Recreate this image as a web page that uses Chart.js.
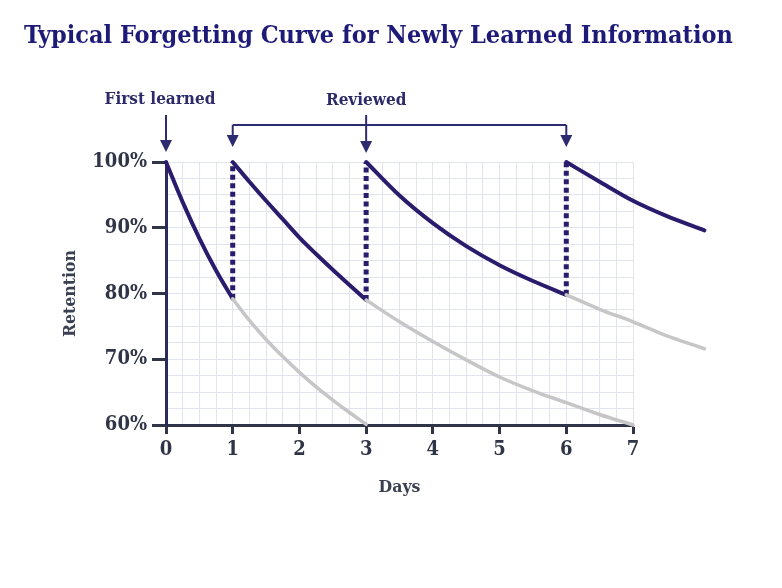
<!DOCTYPE html>
<html><head><meta charset="utf-8">
<script src="https://cdn.jsdelivr.net/npm/chart.js@4.4.1/dist/chart.umd.min.js"></script>
<style>html,body{margin:0;padding:0;background:#fff;}#wrap{width:782px;height:588px;}</style>
</head><body><div id="wrap"><canvas id="c" width="782" height="588"></canvas></div>
<script>
// ---- text ----
const chartTitle = 'Typical Forgetting Curve for Newly Learned Information';
const xAxisTitle = 'Days';
const yAxisTitle = 'Retention';
const firstLearnedLabel = 'First learned';
const reviewedLabel = 'Reviewed';

// ---- events / ticks ----
const firstLearnedDay = 0;
const reviewDays = [1, 3, 6];
const xTickDays = [0, 1, 2, 3, 4, 5, 6, 7];
const yTickPercents = [60, 70, 80, 90, 100];

// ---- series ----
const learnDays = [0, 0.25, 0.5, 0.75, 1];
const learnRetention = [100, 93.9, 88.4, 83.5, 79.2];
const learnFadeDays = [1, 1.25, 1.5, 1.75, 2, 2.25, 2.5, 2.75, 3];
const learnFadeRetention = [79.2, 75.9, 73.0, 70.4, 68.0, 65.8, 63.8, 61.9, 60.1];

const review1Days = [1, 1.25, 1.5, 1.75, 2, 2.25, 2.5, 2.75, 3];
const review1Retention = [100, 97.0, 94.1, 91.3, 88.5, 86.0, 83.6, 81.3, 79.0];
const review1FadeDays = [3, 3.5, 4, 4.5, 5, 5.5, 6, 6.5, 7];
const review1FadeRetention = [79.0, 75.7, 72.7, 69.9, 67.3, 65.2, 63.4, 61.6, 60.0];

const review2Days = [3, 3.5, 4, 4.5, 5, 5.5, 6];
const review2Retention = [100, 94.9, 90.7, 87.2, 84.3, 81.9, 79.8];
const review2FadeDays = [6, 6.5, 7, 7.5, 8.07];
const review2FadeRetention = [79.8, 77.6, 75.7, 73.6, 71.6];

const review3Days = [6, 6.5, 7, 7.5, 8.07];
const review3Retention = [100, 97.0, 94.1, 91.8, 89.6];

// retention just before each review (bottom of the dotted jump)
const reviewLowRetention = [79.2, 79.0, 79.8];
const reviewHighRetention = [100, 100, 100];

// ---- style ----
const NAVY = '#2b1b6d';
const GREY = '#c6c6c6';
const INK = '#2f3447';
const ARROW = '#2e2a70';
const FONT = "'DejaVu Serif Condensed','DejaVu Serif',serif";

const pts = (xs, ys) => xs.map((x, i) => ({x, y: ys[i]}));

const datasets = [];
function curve(xs, ys, color, w) {
  datasets.push({data: pts(xs, ys), borderColor: color, borderWidth: w, clip: false,
    cubicInterpolationMode: 'monotone', pointRadius: 0, fill: false, borderCapStyle: 'round'});
}
curve(learnFadeDays, learnFadeRetention, GREY, 3.5);
curve(review1FadeDays, review1FadeRetention, GREY, 3.5);
curve(review2FadeDays, review2FadeRetention, GREY, 3.5);
reviewDays.forEach((d, i) => {
  datasets.push({data: [{x: d, y: reviewLowRetention[i]}, {x: d, y: reviewHighRetention[i]}],
    borderColor: NAVY, borderWidth: 5, borderDash: [5, 3.5], clip: false, pointRadius: 0, fill: false});
});
curve(learnDays, learnRetention, NAVY, 4);
curve(review1Days, review1Retention, NAVY, 4);
curve(review2Days, review2Retention, NAVY, 4);
curve(review3Days, review3Retention, NAVY, 4);

function arrow(ctx, x, y0, y1) {
  ctx.beginPath(); ctx.moveTo(x, y0); ctx.lineTo(x, y1 - 10); ctx.stroke();
  ctx.beginPath(); ctx.moveTo(x - 6, y1 - 12); ctx.lineTo(x + 6, y1 - 12); ctx.lineTo(x, y1); ctx.closePath(); ctx.fill();
}

const decor = {
  id: 'decor',
  afterDraw(chart) {
    const {ctx, chartArea, scales} = chart;
    const xs = scales.x;
    const top = chartArea.top;
    ctx.save();
    ctx.fillStyle = '#1e1a78';
    ctx.font = 'bold 25px ' + FONT;
    ctx.textAlign = 'left'; ctx.textBaseline = 'alphabetic';
    ctx.fillText(chartTitle, 24, 43);

    ctx.fillStyle = '#2d2a6a';
    ctx.font = 'bold 17px ' + FONT;
    ctx.textAlign = 'center';
    const xf = xs.getPixelForValue(firstLearnedDay);
    ctx.fillText(firstLearnedLabel, xf - 6, top - 58);
    const xr = reviewDays.map(d => xs.getPixelForValue(d));
    ctx.fillText(reviewedLabel, xr[1], top - 57);

    ctx.strokeStyle = ARROW; ctx.fillStyle = ARROW; ctx.lineWidth = 2;
    arrow(ctx, xf, top - 47, top - 10);
    ctx.beginPath(); ctx.moveTo(xr[0], top - 37); ctx.lineTo(xr[xr.length - 1], top - 37); ctx.stroke();
    arrow(ctx, xr[0], top - 37, top - 15);
    arrow(ctx, xr[xr.length - 1], top - 37, top - 15);
    arrow(ctx, xr[1], top - 47, top - 9);
    ctx.restore();
  }
};

new Chart(document.getElementById('c'), {
  type: 'line',
  data: {datasets},
  plugins: [decor],
  options: {
    responsive: false, animation: false,
    layout: {padding: {left: 0, right: 149, top: 162, bottom: 90}},
    plugins: {legend: {display: false}, tooltip: {enabled: false}, title: {display: false}},
    scales: {
      x: {
        type: 'linear', min: 0,
        afterDataLimits: s => { s.max = xTickDays[xTickDays.length - 1]; },
        ticks: {stepSize: 0.25, autoSkip: false, maxRotation: 0, padding: 4, color: INK,
          font: {family: FONT, size: 20, weight: 'bold'},
          callback: v => xTickDays.includes(v) ? String(v) : ''},
        grid: {color: '#e1e3ed', lineWidth: 1, tickLength: 9, tickWidth: 3,
          tickColor: c => xTickDays.includes(c.tick && c.tick.value) ? INK : 'rgba(0,0,0,0)'},
        border: {display: true, color: INK, width: 3},
        title: {display: true, text: xAxisTitle, color: '#3a4052',
          font: {family: FONT, size: 17.5, weight: 'bold'}, padding: {top: 11, bottom: 0}}
      },
      y: {
        type: 'linear', min: 60, max: 100,
        afterFit: s => { s.width = 166; },
        ticks: {stepSize: 2.5, autoSkip: false, padding: 5, color: INK,
          font: {family: FONT, size: 20, weight: 'bold'},
          callback: v => yTickPercents.includes(v) ? v + '%' : ''},
        grid: {color: '#e1e3ed', lineWidth: 1, tickLength: 14, tickWidth: 3,
          tickColor: c => yTickPercents.includes(c.tick && c.tick.value) ? INK : 'rgba(0,0,0,0)'},
        border: {display: true, color: '#2c2a5c', width: 3},
        title: {display: true, text: yAxisTitle, color: '#3a4052',
          font: {family: FONT, size: 17.5, weight: 'bold'}, padding: {top: 60, bottom: 0}}
      }
    }
  }
});
</script></body></html>
